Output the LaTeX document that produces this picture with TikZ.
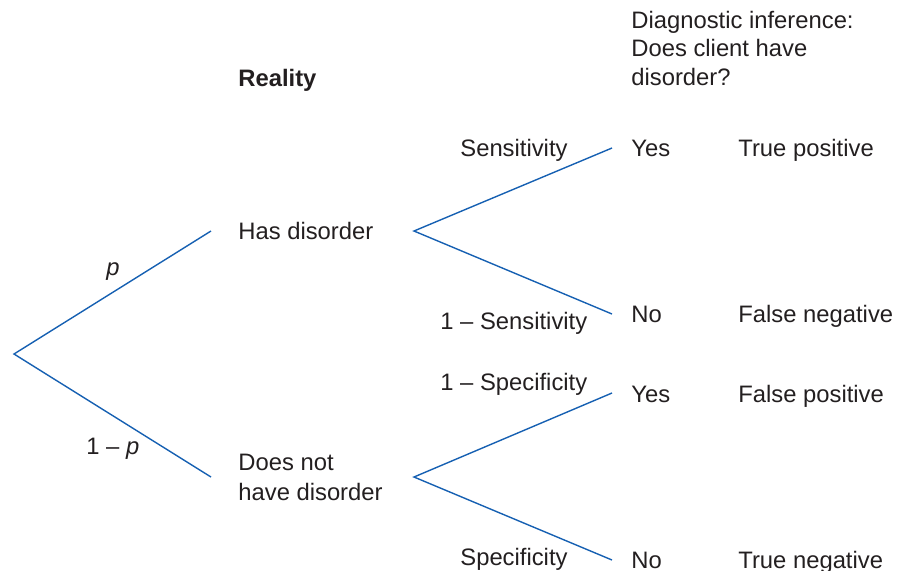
\documentclass[tikz,border=0pt]{standalone}
\usepackage{fontspec}
\setmainfont{Liberation Sans}
\definecolor{treeblue}{RGB}{22,96,178}
\definecolor{inktext}{RGB}{35,31,32}
\tikzset{
  branch/.style={draw=treeblue, line width=0.7pt},
  lbl/.style={anchor=base west, inner sep=0pt, text=inktext, font=\fontsize{11.9}{14.25}\selectfont},
}
\begin{document}
\begin{tikzpicture}[x=0.5pt, y=-0.5pt]
	\useasboundingbox (0, 0) rectangle (905, 570);
	
	\coordinate (root) at (14, 354);
	\coordinate (hasin) at (211, 231);
	\coordinate (notin) at (211, 477);
	\coordinate (hasout) at (414, 231);
	\coordinate (notout) at (414, 477);
	\coordinate (tp) at (612, 148);
	\coordinate (fn) at (612, 314);
	\coordinate (fp) at (612, 393);
	\coordinate (tn) at (612, 560);
	
	\node[lbl, font=\fontsize{11.9}{14.25}\selectfont\bfseries] (reality) at (238, 86) {Reality};
	\node[lbl] (diagA) at (631, 28) {Diagnostic inference:};
	\node[lbl] (diagB) at (631, 56) {Does client have};
	\node[lbl] (diagC) at (631, 85) {disorder?};
	
	\node[lbl] (has) at (238, 239) {Has disorder};
	\node[lbl] (notA) at (238, 470) {Does not};
	\node[lbl] (notB) at (238, 500) {have disorder};
	
	\node[lbl] (prob) at (106, 275) {\itshape p};
	\node[lbl] (probc) at (86, 454) {1 -- \itshape p};
	
	\node[lbl] (sens) at (460, 156) {Sensitivity};
	\node[lbl] (sensc) at (440, 329) {1 -- Sensitivity};
	\node[lbl] (specc) at (440, 390) {1 -- Specificity};
	\node[lbl] (spec) at (460, 565) {Specificity};
	
	\node[lbl] (yesA) at (631, 156) {Yes};
	\node[lbl] (noA) at (631, 322) {No};
	\node[lbl] (yesB) at (631, 402) {Yes};
	\node[lbl] (noB) at (631, 568) {No};
	
	\node[lbl] (tpos) at (738, 156) {True positive};
	\node[lbl] (fneg) at (738, 322) {False negative};
	\node[lbl] (fpos) at (738, 402) {False positive};
	\node[lbl] (tneg) at (738, 568) {True negative};
	
	\draw[branch] (hasin) -- (root) -- (notin);
	\draw[branch] (tp) -- (hasout) -- (fn);
	\draw[branch] (fp) -- (notout) -- (tn);
\end{tikzpicture}
\end{document}
